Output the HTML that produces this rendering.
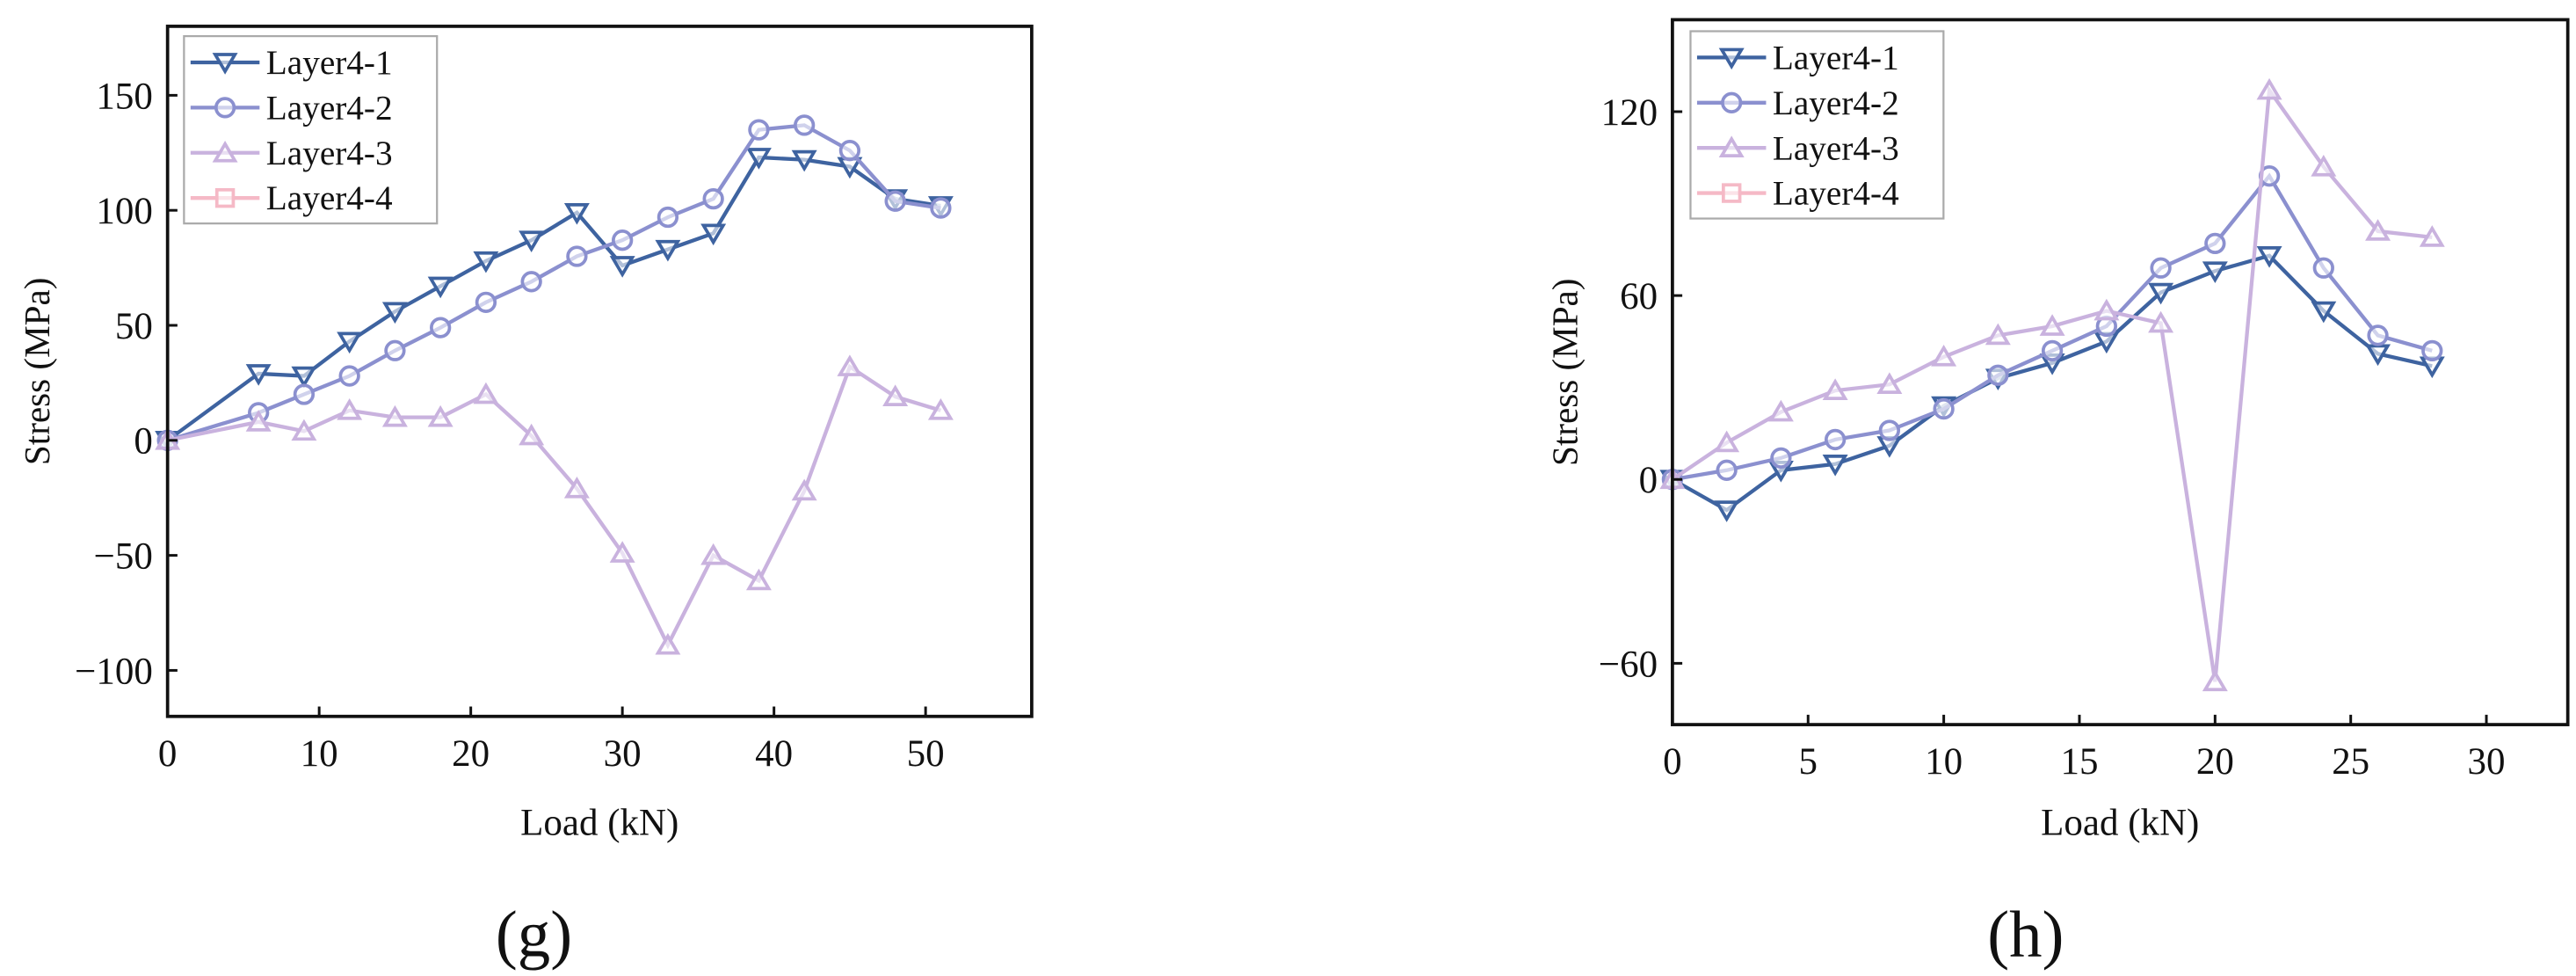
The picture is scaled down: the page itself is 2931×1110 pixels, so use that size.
<!DOCTYPE html>
<html><head><meta charset="utf-8"><style>
html,body{margin:0;padding:0;background:#fff;width:2931px;height:1110px;overflow:hidden}
svg{display:block}
text{font-family:"Liberation Serif",serif;fill:#111}
</style></head><body>
<svg id="fig" width="2931" height="1110" viewBox="0 0 1568 594" preserveAspectRatio="none" xmlns="http://www.w3.org/2000/svg"></svg>
<script>
// ---- Chart (g) data ----
const gLoads = [0,6,9,12,15,18,21,24,27,30,33,36,39,42,45,48,51];
const gLayer1 = [0,29,28,43,56,67,78,87,99,76,83,90,123,122,119,105,102];
const gLayer2 = [0,12,20,28,39,49,60,69,80,87,97,105,135,137,126,104,101];
const gLayer3 = [0,8,4,13,10,10,20,2,-21,-49,-89,-50,-61,-22,32,19,13];
const gXTicks = [0,10,20,30,40,50];
const gYTicks = [-100,-50,0,50,100,150];
// ---- Chart (h) data ----
const hLoads = [0,2,4,6,8,10,12,14,16,18,20,22,24,26,28];
const hLayer1 = [0,-10,3,5,11,24,33,38,45,61,68,73,55,41,37];
const hLayer2 = [0,3,7,13,16,23,34,42,50,69,77,99,69,47,42];
const hLayer3 = [0,12,22,29,31,40,47,50,55,51,-66,127,102,81,79];
const hXTicks = [0,5,10,15,20,25,30];
const hYTicks = [-60,0,60,120];
const seriesNames = ["Layer4-1","Layer4-2","Layer4-3","Layer4-4"];

const NS="http://www.w3.org/2000/svg";
const svg=document.getElementById('fig');
const COLORS=["#3e63a0","#8b90cf","#c9b2de","#f5b9c6"];
const MARK=["down","circle","up","square"];
function mk(tag,attrs,parent){const e=document.createElementNS(NS,tag);for(const k in attrs)e.setAttribute(k,attrs[k]);(parent||svg).appendChild(e);return e;}
function marker(g,type,x,y,c){
  let e;const s=6;
  if(type==="down")e=mk('polygon',{points:`${x-s},${y-s*0.8} ${x+s},${y-s*0.8} ${x},${y+s*0.9}`},g);
  else if(type==="up")e=mk('polygon',{points:`${x-s},${y+s*0.8} ${x+s},${y+s*0.8} ${x},${y-s*0.9}`},g);
  else if(type==="circle")e=mk('circle',{cx:x,cy:y,r:5.5},g);
  else e=mk('rect',{x:x-5,y:y-5,width:10,height:10},g);
  e.setAttribute('fill','#fff');e.setAttribute('fill-opacity','0.6');e.setAttribute('stroke',c);e.setAttribute('stroke-width','2');
  return e;
}
function chart(o){
  const sx=v=>o.x0+(v-o.xmin)/(o.xmax-o.xmin)*(o.x1-o.x0);
  const sy=v=>o.y1-(v-o.ymin)/(o.ymax-o.ymin)*(o.y1-o.y0);
  const g=mk('g',{});
  
  
  o.series.forEach((ys,i)=>{
    const sg=mk('g',{},g);
    
    
    const pts=o.xs.map((x,j)=>sx(x)+','+sy(ys[j])).join(' ');
    mk('polyline',{points:pts,fill:'none',stroke:COLORS[i],'stroke-width':2.3},sg);
    o.xs.forEach((x,j)=>{const m=marker(sg,MARK[i],sx(x),sy(ys[j]),COLORS[i]);
      
      });
  });
  const fr=mk('rect',{x:o.x0,y:o.y0,width:o.x1-o.x0,height:o.y1-o.y0,fill:'none',stroke:'#111','stroke-width':2},g);
  
  
  o.xt.forEach(v=>{const x=sx(v);
    mk('line',{x1:x,x2:x,y1:o.y1,y2:o.y1-6,stroke:'#111','stroke-width':1.6},g);
    const t=mk('text',{x:x,y:o.y1+30,'text-anchor':'middle','font-size':23},g);t.textContent=v;
    
    });
  o.yt.forEach(v=>{const y=sy(v);
    mk('line',{x1:o.x0,x2:o.x0+6,y1:y,y2:y,stroke:'#111','stroke-width':1.6},g);
    const t=mk('text',{x:o.x0-9,y:y+8,'text-anchor':'end','font-size':23},g);t.textContent=v<0?'\u2212'+(-v):v;
    
    });
  const xl=mk('text',{x:(o.x0+o.x1)/2,y:508,'text-anchor':'middle','font-size':23},g);xl.textContent='Load (kN)';
  
  
  const yx=o.ytx,yy=(o.y0+o.y1)/2;
  const yl=mk('text',{x:yx,y:yy,'text-anchor':'middle','font-size':22,transform:`rotate(-90 ${yx} ${yy})`},g);yl.textContent='Stress (MPa)';
  
  
  const pl=mk('text',{x:o.panelX,y:582,'text-anchor':'middle','font-size':40},g);pl.textContent=o.panel;
  
  
  const lg=mk('g',{},g);
  
  
  mk('rect',{x:o.lx,y:o.ly,width:o.lw,height:114,fill:'#fff',stroke:'#aaa','stroke-width':1.2},lg);
  seriesNames.forEach((n,i)=>{const y=o.ly+16+i*27.5;
    const e=mk('g',{},lg);
    
    
    mk('line',{x1:o.lx+4,x2:o.lx+46,y1:y,y2:y,stroke:COLORS[i],'stroke-width':2.3},e);
    marker(e,MARK[i],o.lx+25,y,COLORS[i]);
    const t=mk('text',{x:o.lx+50,y:y+7,'font-size':21},e);t.textContent=n;});
}
chart({name:'chart-g',xs:gLoads,series:[gLayer1,gLayer2,gLayer3],xt:gXTicks,yt:gYTicks,
  x0:102,x1:628,y0:16,y1:436,xmin:0,xmax:57,ymin:-120,ymax:180,panel:'(g)',panelX:325,lx:112,ly:22,lw:154,ytx:30});
chart({name:'chart-h',xs:hLoads,series:[hLayer1,hLayer2,hLayer3],xt:hXTicks,yt:hYTicks,
  x0:1018,x1:1563,y0:12,y1:441,xmin:0,xmax:33,ymin:-80,ymax:150,panel:'(h)',panelX:1233,lx:1029,ly:19,lw:154,ytx:960});
</script>
</body></html>
